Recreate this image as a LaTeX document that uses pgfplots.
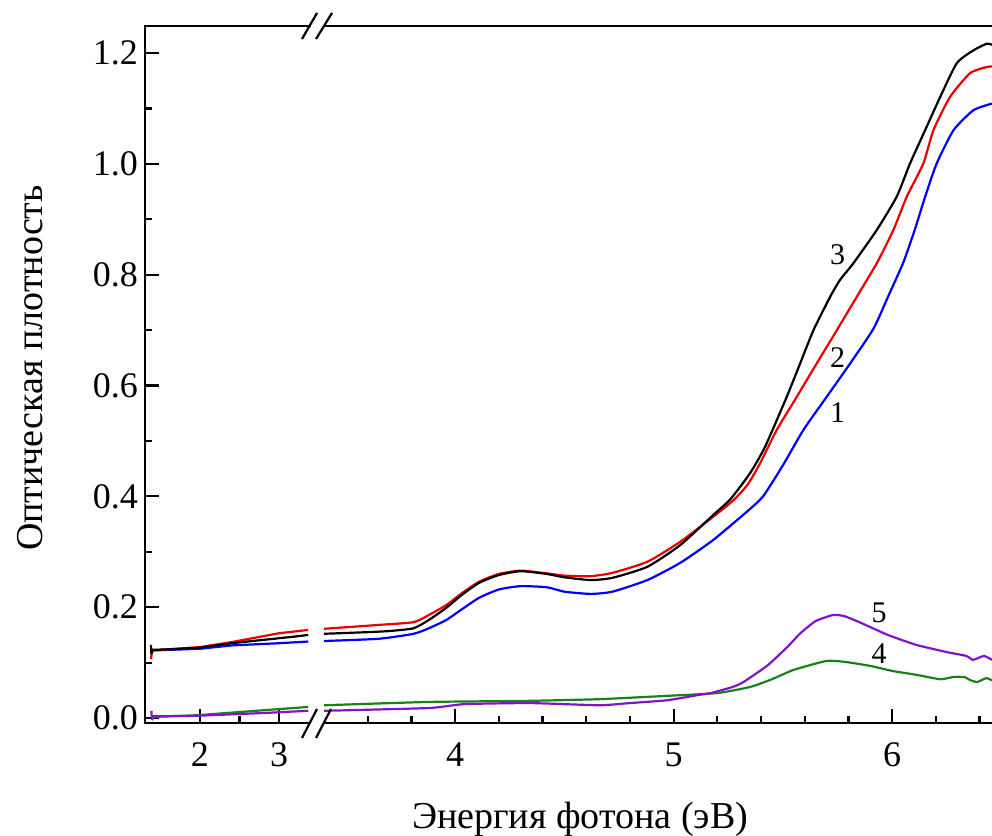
\documentclass[border=0pt]{standalone}
\usepackage{fontspec}
\setmainfont{Liberation Serif}
\usepackage{pgfplots}
\pgfplotsset{compat=1.18}
\definecolor{cgreen}{RGB}{25,130,25}
\definecolor{cpurple}{RGB}{130,20,200}
\definecolor{cblue}{RGB}{0,0,255}
\definecolor{cred}{RGB}{235,0,0}
\pgfplotsset{
  brk/.style={
    scale only axis, anchor=south west,
    height=348.5pt, ymin=-0.009, ymax=1.249,
    axis line style={draw=none},
    tick align=inside, xtick pos=bottom, ytick pos=left,
    major tick length=7pt, minor tick length=3.5pt,
    every tick/.style={black, line width=1.1pt},
    tick label style={font=\fontsize{18}{20}\selectfont},
    xticklabel style={yshift=-6.5pt},
    /pgf/number format/assume math mode=true,
    clip=false,
    every axis plot/.append style={line width=1.1pt, line join=round},
  }
}
\begin{document}
\begin{tikzpicture}
\path[use as bounding box] (0,0) rectangle (496pt,418pt);
% left segment
\begin{axis}[brk, at={(72.5pt,56.5pt)}, width=82.5pt,
  xmin=1.304, xmax=3.392, xtick={2,3}, minor xtick={2.5},
  ytick={0,0.2,0.4,0.6,0.8,1.0,1.2}, minor ytick={0.1,0.3,0.5,0.7,0.9,1.1},
  yticklabel style={/pgf/number format/.cd, fixed, fixed zerofill, precision=1}]
\addplot[cblue] coordinates {(1.39,0.121) (1.41,0.122) (2.0,0.125) (2.4,0.131) (3.0,0.135) (3.37,0.138)};
\addplot[cred] coordinates {(1.38,0.106) (1.39,0.118) (1.41,0.122) (2.0,0.128) (2.4,0.137) (3.0,0.153) (3.37,0.159)};
\addplot[black] coordinates {(1.38,0.132) (1.385,0.116) (1.40,0.123) (1.6,0.124) (2.0,0.127) (2.4,0.135) (2.8,0.141) (3.0,0.144) (3.2,0.147) (3.37,0.150)};
\addplot[cgreen] coordinates {(1.39,-0.004) (1.41,0.002) (1.96,0.005) (2.80,0.014) (3.37,0.020)};
\addplot[cpurple] coordinates {(1.385,0.013) (1.39,0.000) (1.40,0.003) (1.96,0.004) (2.80,0.009) (3.37,0.013)};
\end{axis}
% right segment
\begin{axis}[brk, at={(162pt,56.5pt)}, width=334pt,
  xmin=3.400, xmax=6.457, xtick={4,5,6},
  minor xtick={3.6,3.8,4.2,4.4,4.6,4.8,5.2,5.4,5.6,5.8,6.2,6.4},
  ytick=\empty]
\addplot[cblue, smooth, tension=0.35] coordinates {(3.40,0.139) (3.65,0.143) (3.81,0.152) (3.88,0.162) (3.96,0.177) (4.03,0.196) (4.11,0.217) (4.20,0.232) (4.30,0.238) (4.42,0.236) (4.50,0.228) (4.62,0.224) (4.72,0.228) (4.88,0.249) (5.03,0.280) (5.18,0.321) (5.34,0.374) (5.411,0.401) (5.503,0.458) (5.594,0.520) (5.701,0.580) (5.808,0.640) (5.915,0.703) (5.983,0.762) (6.052,0.823) (6.105,0.883) (6.151,0.941) (6.204,1.001) (6.281,1.061) (6.372,1.097) (6.457,1.109)};
\addplot[cred, smooth, tension=0.35] coordinates {(3.40,0.161) (3.65,0.168) (3.81,0.173) (3.88,0.186) (3.96,0.204) (4.03,0.225) (4.11,0.246) (4.20,0.260) (4.30,0.266) (4.42,0.261) (4.50,0.257) (4.62,0.256) (4.72,0.262) (4.88,0.282) (5.03,0.318) (5.18,0.363) (5.274,0.393) (5.34,0.422) (5.396,0.460) (5.472,0.520) (5.564,0.580) (5.655,0.640) (5.747,0.700) (5.838,0.760) (5.930,0.821) (6.006,0.881) (6.067,0.941) (6.143,1.001) (6.189,1.061) (6.265,1.121) (6.357,1.164) (6.433,1.175) (6.457,1.176)};
\addplot[black, smooth, tension=0.35] coordinates {(3.40,0.152) (3.60,0.155) (3.70,0.157) (3.81,0.162) (3.88,0.177) (3.96,0.199) (4.03,0.222) (4.11,0.244) (4.20,0.258) (4.30,0.265) (4.42,0.260) (4.50,0.254) (4.62,0.249) (4.72,0.253) (4.88,0.273) (5.03,0.312) (5.18,0.366) (5.26,0.395) (5.35,0.442) (5.419,0.490) (5.518,0.580) (5.579,0.640) (5.640,0.700) (5.716,0.760) (5.762,0.791) (5.823,0.821) (5.930,0.881) (6.021,0.941) (6.082,1.001) (6.151,1.061) (6.220,1.121) (6.296,1.182) (6.372,1.205) (6.433,1.217) (6.457,1.215)};
\addplot[cgreen, smooth, tension=0.3] coordinates {(3.40,0.023) (3.88,0.029) (4.34,0.031) (4.66,0.034) (4.97,0.040) (5.20,0.045) (5.35,0.056) (5.45,0.070) (5.55,0.087) (5.70,0.103) (5.79,0.101) (5.90,0.094) (6.00,0.085) (6.11,0.078) (6.22,0.070) (6.28,0.074) (6.33,0.074) (6.36,0.068) (6.39,0.065) (6.43,0.072) (6.457,0.068)};
\addplot[cpurple, smooth, tension=0.3] coordinates {(3.40,0.013) (3.88,0.018) (4.04,0.025) (4.34,0.027) (4.66,0.023) (4.80,0.027) (4.97,0.032) (5.12,0.042) (5.17,0.045) (5.27,0.056) (5.32,0.065) (5.43,0.095) (5.52,0.128) (5.58,0.153) (5.65,0.175) (5.73,0.186) (5.78,0.184) (5.85,0.173) (5.98,0.150) (6.11,0.132) (6.25,0.119) (6.34,0.112) (6.37,0.105) (6.42,0.112) (6.457,0.105)};
\node[font=\fontsize{15}{17}\selectfont] at (axis cs:5.75,0.836) {3};
\node[font=\fontsize{15}{17}\selectfont] at (axis cs:5.75,0.650) {2};
\node[font=\fontsize{15}{17}\selectfont] at (axis cs:5.75,0.551) {1};
\node[font=\fontsize{15}{17}\selectfont] at (axis cs:5.94,0.189) {5};
\node[font=\fontsize{15}{17}\selectfont] at (axis cs:5.94,0.117) {4};
\end{axis}
% axis lines and break marks, in pixel coordinates
\begin{scope}[x=0.5pt,y=-0.5pt,yshift=418pt]
\draw[line width=1.25pt, line cap=rect] (310,723) -- (145,723) -- (145,26) -- (309.5,26);
\draw[line width=1.25pt] (324,26) -- (992,26);
\draw[line width=1.25pt] (324,723) -- (992,723);
\draw[line width=1.1pt] (302,39) -- (317,13) (316,39) -- (332,13);
\draw[line width=1.1pt] (302,738) -- (317,709) (316,738) -- (331,709);
\node[font=\fontsize{19}{22}\selectfont, anchor=west] at (405,819) {Энергия фотона (эВ)};
\node[font=\fontsize{19}{22}\selectfont, rotate=90] at (30,368) {Оптическая плотность};
\end{scope}
\end{tikzpicture}
\end{document}
